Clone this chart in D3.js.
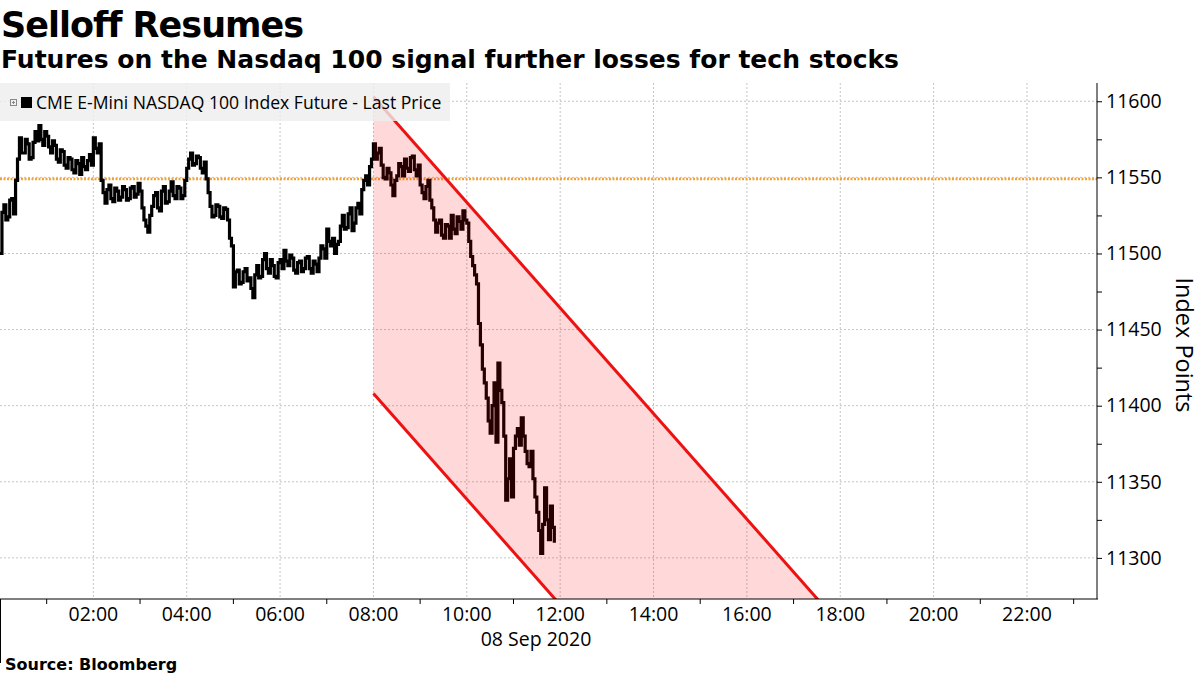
<!doctype html>
<html>
<head>
<meta charset="utf-8">
<script src="https://d3js.org/d3.v7.min.js"></script>
<style>
    body { margin: 0; background: #fff; }
    .title { font-family: "DejaVu Sans"; font-weight: bold; }
    .axis text { font-family: "Open Sans"; font-size: 19.5px; fill: #000; }
    .axis path, .axis line { stroke: #000; }
    .grid line { stroke: #c4c4c4; stroke-dasharray: 2,2; }
</style>
</head>
<body>
<svg id="chart" width="1200" height="675"></svg>
<script>
    // CME E-Mini NASDAQ 100 future, 08 Sep 2020 from 00:00
    // lastPrice: value at the start of each 5-minute step, midPrice: value 2.5 minutes later
    var startTime = new Date(2020, 8, 8, 0, 0);
    var stepMinutes = 5;
    var lastPrice = [
        11500, 11532, 11524, 11536, 11548, 11576, 11566, 11572, 11563, 11580, 11584, 11571, // 00h
        11577, 11566, 11571, 11560, 11567, 11556, 11562, 11553, 11559, 11563, 11555, 11565, // 01h
        11576, 11566, 11548, 11533, 11545, 11534, 11541, 11537, 11542, 11536, 11544, 11539, // 02h
        11541, 11522, 11514, 11531, 11540, 11528, 11544, 11534, 11547, 11536, 11543, 11538, // 03h
        11556, 11566, 11559, 11563, 11553, 11549, 11531, 11525, 11531, 11523, 11529, 11510, // 04h
        11478, 11489, 11481, 11490, 11484, 11471, 11492, 11485, 11500, 11487, 11492, 11484, // 05h
        11496, 11502, 11492, 11497, 11487, 11495, 11490, 11498, 11487, 11493, 11497, 11503, // 06h
        11516, 11505, 11500, 11508, 11525, 11517, 11530, 11520, 11533, 11542, 11551, 11557, // 07h
        11572, 11566, 11558, 11549, 11553, 11538, 11551, 11557, 11562, 11554, 11564, 11551, // 08h
        11545, 11536, 11548, 11530, 11514, 11522, 11510, 11518, 11525, 11513, 11521, 11528, // 09h
        11520, 11498, 11486, 11454, 11424, 11405, 11382, 11415, 11428, 11402, 11338, 11365, // 10h
        11372, 11385, 11392, 11370, 11360, 11352, 11330, 11303, 11346, 11312, 11320         // 11h
    ];
    var midPrice = [
        11527, 11522, 11535, 11526, 11562, 11566, 11575, 11562, 11573, 11574, 11575, 11580, // 00h
        11570, 11574, 11562, 11568, 11558, 11563, 11555, 11561, 11552, 11557, 11561, 11558, // 01h
        11569, 11572, 11540, 11542, 11536, 11543, 11535, 11544, 11535, 11543, 11537, 11546, // 02h
        11530, 11518, 11525, 11538, 11530, 11541, 11533, 11541, 11538, 11544, 11536, 11548, // 03h
        11562, 11558, 11564, 11556, 11560, 11540, 11524, 11532, 11524, 11530, 11522, 11505, // 04h
        11488, 11480, 11488, 11482, 11477, 11486, 11484, 11496, 11490, 11496, 11485, 11494, // 05h
        11490, 11495, 11499, 11489, 11494, 11488, 11497, 11490, 11495, 11488, 11505, 11497, // 06h
        11508, 11510, 11506, 11518, 11516, 11526, 11515, 11530, 11526, 11548, 11545, 11562, // 07h
        11562, 11569, 11550, 11556, 11545, 11548, 11559, 11551, 11556, 11563, 11555, 11558, // 08h
        11540, 11544, 11535, 11522, 11520, 11512, 11519, 11510, 11516, 11524, 11516, 11522, // 09h
        11508, 11492, 11480, 11440, 11415, 11390, 11400, 11376, 11410, 11380, 11352, 11340, // 10h
        11380, 11374, 11380, 11362, 11370, 11340, 11318, 11322, 11325, 11334, 11310         // 11h
    ];

    // trend channel, [hour, index points]
    var channelUpper = [[8, 11603], [18, 11256]];
    var channelLower = [[8, 11408], [18, 11061]];
    var refLevel = 11549;

    var yTicks = [11300, 11325, 11350, 11375, 11400, 11425, 11450, 11475, 11500, 11525, 11550, 11575, 11600];
    var xLabelHours = [2, 4, 6, 8, 10, 12, 14, 16, 18, 20, 22];
    var xTickHours = [1, 3, 5, 7, 9, 11, 13, 15, 17, 19, 21, 23];

    var legendLabel = "CME E-Mini NASDAQ 100 Index Future - Last Price";

    var svg = d3.select("#chart");
    var plotL = 0, plotR = 1097, plotT = 83, plotB = 599;

    var x = d3.scaleTime()
        .domain([startTime, d3.timeMinute.offset(startTime, 23 * 60 + 30)])
        .range([plotL, plotR]);
    var y = d3.scaleLinear().domain([11273, 11612]).range([plotB, plotT]);

    function hr(h) { return d3.timeMinute.offset(startTime, h * 60); }

    var data = [];
    lastPrice.forEach(function(v, i) {
        var t = d3.timeMinute.offset(startTime, i * stepMinutes);
        data.push({ t: t, v: v });
        data.push({ t: d3.timeSecond.offset(t, stepMinutes * 30), v: midPrice[i] });
    });

    svg.append("defs").append("clipPath").attr("id", "plot")
        .append("rect").attr("x", plotL).attr("y", plotT)
        .attr("width", plotR - plotL).attr("height", plotB - plotT);

    // titles
    svg.append("text").attr("class", "title")
        .attr("x", 1).attr("y", 37)
        .attr("font-size", "35px").attr("letter-spacing", "-1px")
        .text("Selloff Resumes");
    svg.append("text").attr("class", "title")
        .attr("x", 1).attr("y", 68)
        .attr("font-size", "25px")
        .text("Futures on the Nasdaq 100 signal further losses for tech stocks");
    svg.append("text").attr("class", "title")
        .attr("x", 5).attr("y", 670)
        .attr("font-size", "16px")
        .text("Source: Bloomberg");

    // grid
    var grid = svg.append("g").attr("class", "grid");
    grid.selectAll(".gy").data(yTicks.filter(function(d) { return d % 50 === 0; }))
        .enter().append("line")
        .attr("x1", plotL).attr("x2", plotR)
        .attr("y1", function(d) { return y(d); }).attr("y2", function(d) { return y(d); });
    grid.selectAll(".gx").data(xLabelHours)
        .enter().append("line")
        .attr("x1", function(d) { return x(hr(d)); }).attr("x2", function(d) { return x(hr(d)); })
        .attr("y1", plotT).attr("y2", plotB);

    // reference level
    svg.append("line")
        .attr("x1", plotL).attr("x2", plotR)
        .attr("y1", y(refLevel)).attr("y2", y(refLevel))
        .attr("stroke", "#f0a23a").attr("stroke-width", 2.5)
        .attr("stroke-dasharray", "2,1.5");

    // price
    var line = d3.line()
        .x(function(d) { return x(d.t); })
        .y(function(d) { return y(d.v); })
        .curve(d3.curveStepAfter);
    svg.append("path").datum(data)
        .attr("d", line)
        .attr("fill", "none")
        .attr("stroke", "#000")
        .attr("stroke-width", 3.2);

    // channel
    var ch = svg.append("g").attr("clip-path", "url(#plot)");
    var poly = channelUpper.concat(channelLower.slice().reverse());
    ch.append("path")
        .attr("d", "M" + poly.map(function(p) { return [x(hr(p[0])), y(p[1])].join(","); }).join("L") + "Z")
        .attr("fill", "#ff0000").attr("fill-opacity", 0.15);
    [channelUpper, channelLower].forEach(function(seg) {
        ch.append("line")
            .attr("x1", x(hr(seg[0][0]))).attr("y1", y(seg[0][1]))
            .attr("x2", x(hr(seg[1][0]))).attr("y2", y(seg[1][1]))
            .attr("stroke", "#ee1111").attr("stroke-width", 3);
    });

    // legend
    var lg = svg.append("g");
    lg.append("rect").attr("x", 0).attr("y", 83).attr("width", 450).attr("height", 38)
        .attr("fill", "#eeeeee").attr("fill-opacity", 0.8);
    lg.append("rect").attr("x", 10.5).attr("y", 99.5).attr("width", 6).attr("height", 6)
        .attr("fill", "none").attr("stroke", "#888");
    lg.append("path").attr("d", "M12,102.5H15M13.5,101V104").attr("stroke", "#888");
    lg.append("rect").attr("x", 21).attr("y", 97).attr("width", 11).attr("height", 11).attr("fill", "#000");
    lg.append("text").attr("x", 36).attr("y", 109)
        .attr("font-family", "Open Sans").attr("font-size", "17.6px")
        .text(legendLabel);

    // x axis
    var xa = svg.append("g").attr("class", "axis");
    xa.append("line").attr("x1", plotL).attr("x2", plotR + 1).attr("y1", plotB).attr("y2", plotB);
    xa.append("line").attr("x1", plotL + 0.5).attr("x2", plotL + 0.5).attr("y1", plotB).attr("y2", 663);
    xa.selectAll(".tk").data(xTickHours).enter().append("line")
        .attr("x1", function(d) { return x(hr(d)); }).attr("x2", function(d) { return x(hr(d)); })
        .attr("y1", plotB).attr("y2", plotB + 5);
    xa.selectAll(".lb").data(xLabelHours).enter().append("text")
        .attr("x", function(d) { return x(hr(d)); }).attr("y", 621)
        .attr("text-anchor", "middle")
        .text(function(d) { return d3.timeFormat("%H:%M")(hr(d)); });
    xa.append("text").attr("x", 536).attr("y", 646).attr("text-anchor", "middle")
        .text(d3.timeFormat("%d %b %Y")(startTime));

    // y axis
    var ya = svg.append("g").attr("class", "axis")
        .attr("transform", "translate(" + plotR + ",0)")
        .call(d3.axisRight(y).tickValues(yTicks).tickSize(5).tickSizeOuter(0)
            .tickFormat(function(d) { return d % 50 === 0 ? d : ""; }));
    ya.selectAll("text").attr("x", 9);
    ya.select(".domain").attr("d", "M0," + plotT + "V" + plotB);

    svg.append("text")
        .attr("transform", "translate(1176,345) rotate(90)")
        .attr("text-anchor", "middle")
        .attr("font-family", "Open Sans").attr("font-size", "23.5px")
        .text("Index Points");
</script>
</body>
</html>
